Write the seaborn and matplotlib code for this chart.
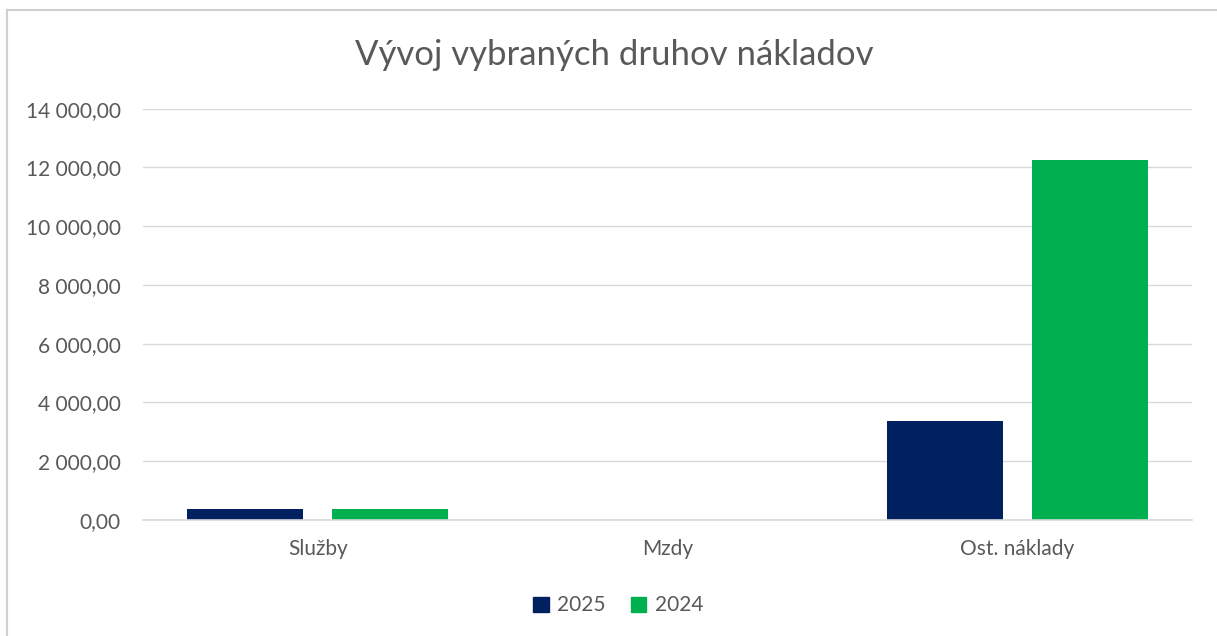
import pandas as pd
import matplotlib
matplotlib.use("Agg")
import matplotlib.pyplot as plt
import matplotlib.patches as mpatches
from matplotlib.ticker import FuncFormatter, MultipleLocator
import seaborn as sns

# values
categories = ["Služby", "Mzdy", "Ost. náklady"]
years = ["2025", "2024"]
values_2025 = [380, 0, 3370]
values_2024 = [390, 0, 12250]
colors = {"2025": "#002060", "2024": "#00B050"}

df = pd.DataFrame({
    "Kategória": categories * 2,
    "Rok": ["2025"] * len(categories) + ["2024"] * len(categories),
    "Hodnota": values_2025 + values_2024,
})

sns.set_theme(style="white")
plt.rcParams["font.family"] = ["Lato", "DejaVu Sans"]

text_gray = "#595959"
grid_gray = "#D9D9D9"

fig = plt.figure(figsize=(12.17, 6.36), dpi=100)
ax = fig.add_axes([0.1175, 0.1824, 0.8619, 0.6467])

sns.barplot(
    data=df, x="Kategória", y="Hodnota", hue="Rok",
    order=categories, hue_order=years, palette=colors, saturation=1,
    width=0.83, gap=0.2, linewidth=0, legend=False, ax=ax,
)

ax.set_ylim(0, 14000)
ax.set_xlim(-0.5, len(categories) - 0.5)
ax.yaxis.set_major_locator(MultipleLocator(2000))
ax.yaxis.set_major_formatter(FuncFormatter(
    lambda v, _: f"{v:,.2f}".replace(",", " ").replace(".", ",")))
ax.grid(axis="y", color=grid_gray, linewidth=1.0)
ax.set_axisbelow(True)
for side in ["top", "right", "left"]:
    ax.spines[side].set_visible(False)
ax.spines["bottom"].set_color(grid_gray)
ax.spines["bottom"].set_linewidth(1.2)
ax.tick_params(axis="both", length=0, labelsize=15, colors=text_gray)
ax.tick_params(axis="y", pad=16)
ax.tick_params(axis="x", pad=14)
ax.set_xlabel("")
ax.set_ylabel("")

fig.text(0.505, 0.913, "Vývoj vybraných druhov nákladov", ha="center", va="center",
         fontsize=25, color=text_gray)

handles = [mpatches.Patch(color=colors[y], label=y) for y in years]
fig.legend(handles=handles, loc="center", bbox_to_anchor=(0.508, 0.048), ncol=2,
           frameon=False, fontsize=15, labelcolor=text_gray,
           handlelength=0.75, handleheight=0.75, handletextpad=0.4, columnspacing=1.2)

# chart border (only top and left visible in the crop)
fig.patches.append(mpatches.Rectangle((7 / 1217, -0.1), 1.2, 1 - 10 / 636 + 0.1,
                                      transform=fig.transFigure, fill=False,
                                      edgecolor="#D0D0D0", linewidth=1.5))

fig.savefig("out.png", dpi=100)
